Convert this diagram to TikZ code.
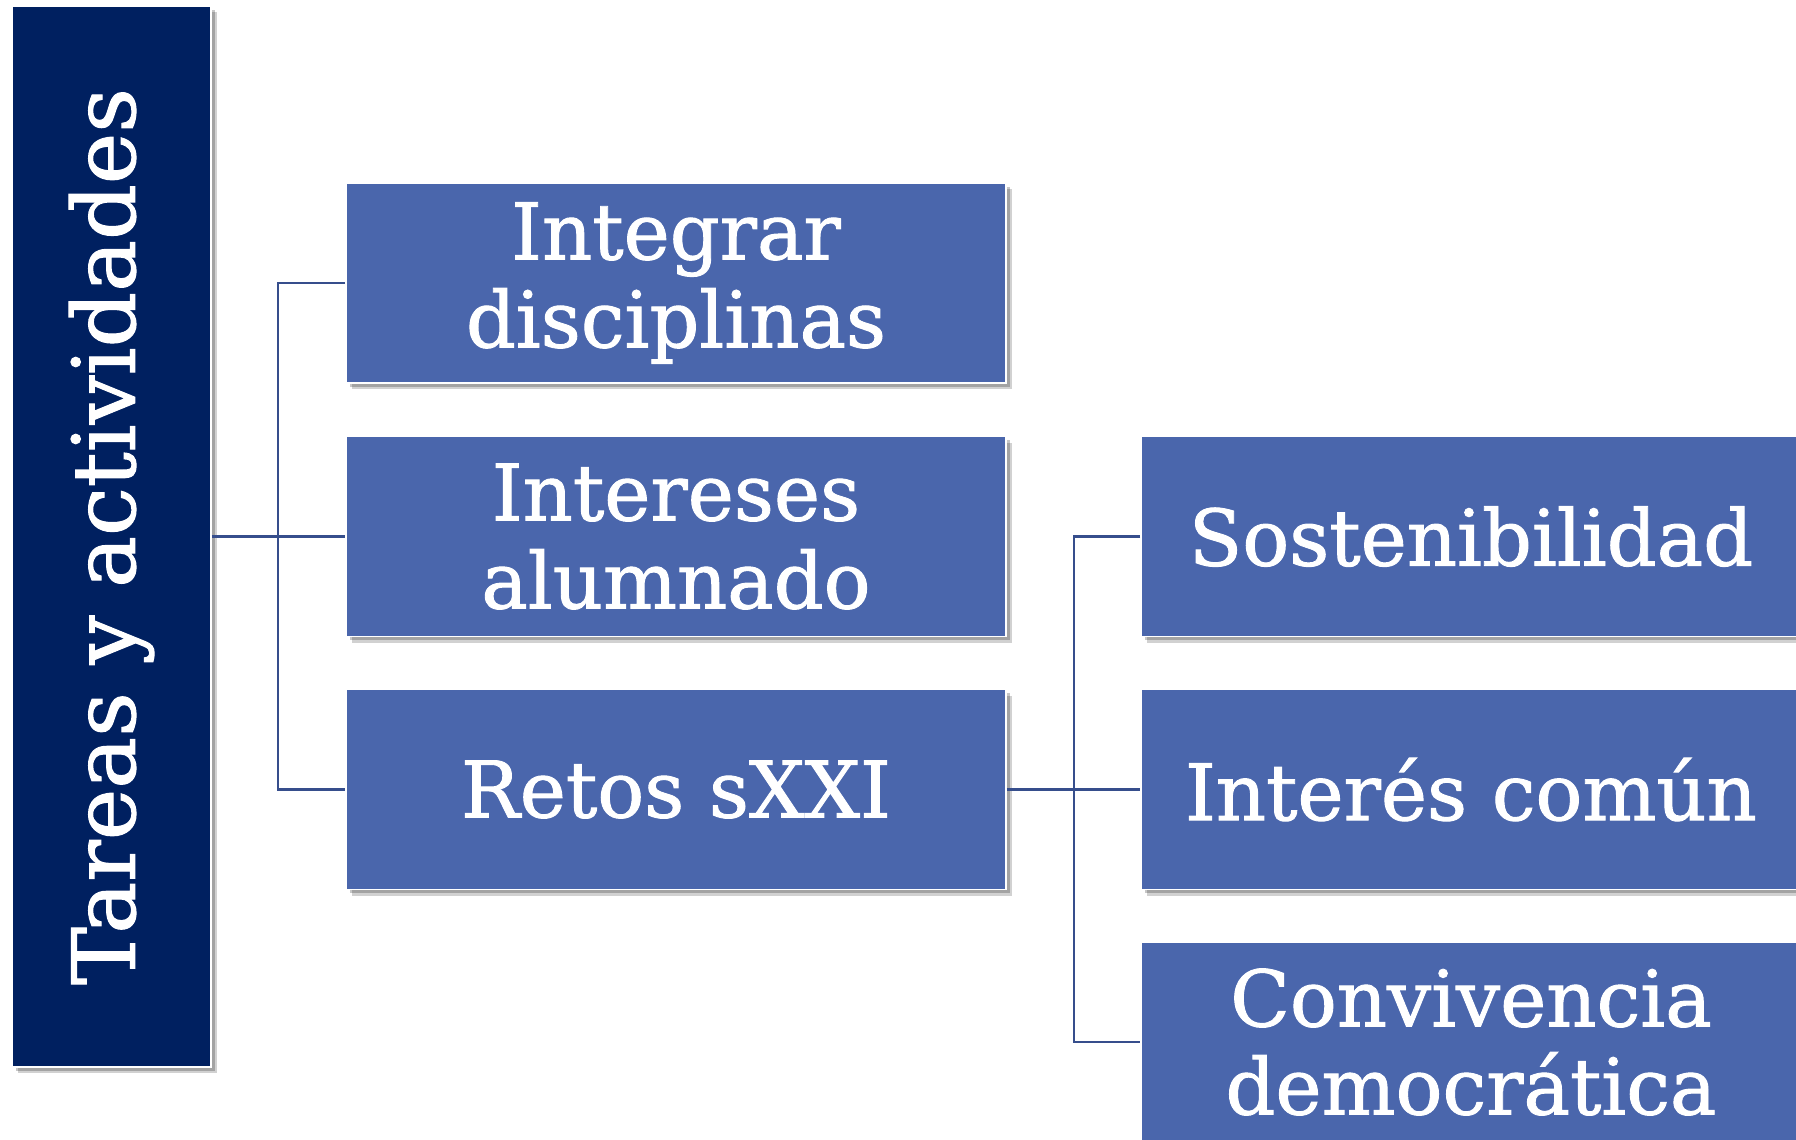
\documentclass[tikz,border=0pt]{standalone}
\usepackage{fontspec}
\setmainfont{DejaVu Serif}
\newfontface\heavyserif{DejaVu Serif}[FakeBold=1.2]
\usetikzlibrary{shadows}
\definecolor{navy}{RGB}{0,32,96}
\definecolor{boxblue}{RGB}{74,102,172}
\definecolor{linkblue}{RGB}{54,78,140}
\tikzset{
  softshadow/.style={
    drop shadow={shadow xshift=3pt,shadow yshift=-3pt,opacity=.18,fill=black},
    drop shadow={shadow xshift=1.8pt,shadow yshift=-1.8pt,opacity=.22,fill=black}},
  itembox/.style={rectangle,fill=boxblue,draw=white,line width=0.9pt,softshadow,
    minimum width=330pt,minimum height=100pt,inner sep=0pt,align=center,
    text=white,font=\heavyserif\fontsize{39}{44}\selectfont},
  rootbox/.style={rectangle,fill=navy,draw=white,line width=0.9pt,softshadow,
    minimum width=99.5pt,minimum height=530.5pt,inner sep=0pt,
    text=white,font=\heavyserif\fontsize{43.5}{48}\selectfont},
  link/.style={draw=linkblue,line width=1.1pt}
}
\begin{document}
\begin{tikzpicture}[x=0.5pt,y=-0.5pt]
\useasboundingbox (0,0) rectangle (1796,1140);
\clip (0,0) rectangle (1796,1140);
\fill[white] (0,0) rectangle (1796,1140);
\node[rootbox] (L) at (111.5,536.5) {\rotatebox{90}{Tareas y actividades}};
\node[itembox] (M1) at (676,283) {Integrar\\disciplinas};
\node[itembox] (M2) at (676,536.5) {Intereses\\alumnado};
\node[itembox] (M3) at (676,789.5) {Retos sXXI};
\node[itembox] (R1) at (1471,536.5) {Sostenibilidad};
\node[itembox] (R2) at (1471,789.5) {Interés común};
\node[itembox] (R3) at (1471,1042) {Convivencia\\democrática};
\coordinate (j1) at (278,536.5);
\coordinate (j2) at (1074,789.5);
\draw[link] (L.east) -- (M2.west);
\draw[link] (M1.west) -- (M1.west -| j1) -- (M3.west -| j1) -- (M3.west);
\draw[link] (M3.east) -- (R2.west);
\draw[link] (R1.west) -- (R1.west -| j2) -- (R3.west -| j2) -- (R3.west);
\end{tikzpicture}
\end{document}
